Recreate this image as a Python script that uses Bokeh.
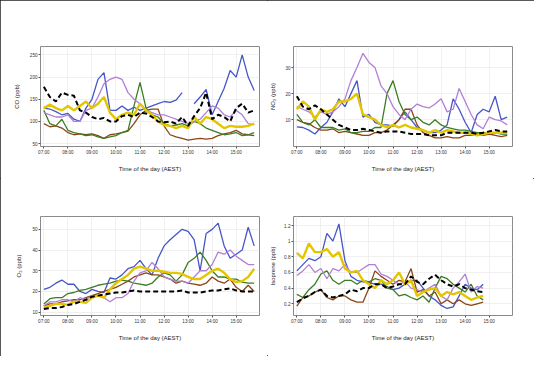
import numpy as np
from bokeh.plotting import figure
from bokeh.models import Legend, LegendItem, FixedTicker, Range1d
from bokeh.layouts import gridplot
from bokeh.embed import file_html
from bokeh.resources import INLINE

nan = float("nan")

# ---- data (15-minute steps) ----
hours = [7 + 0.25 * i for i in range(36)]          # 07:00 .. 15:45
hours_iso = [7 + 0.25 * i for i in range(32)]      # 07:00 .. 14:45
hour_ticks = [7, 8, 9, 10, 11, 12, 13, 14, 15]
hour_labels = ["07:00", "08:00", "09:00", "10:00", "11:00", "12:00", "13:00", "14:00", "15:00"]

series_names = ["Class I_Jan 22", "Class I_Feb 6", "Class I_Feb 7",
                "Class I_Feb 8", "Class II_Feb 9", "Avg non-event"]

co_jan22 = [130, 128, 122, 115, 118, 105, 100, 130, 150, 195, 210, 125, 125, 135, 125, 132, 125, 130,
            135, 140, 145, 143, 148, 165, nan, 140, 155, 172, 115, 145, 175, 215, 200, 250, 200, 170]
co_feb6 = [95, 88, 90, 85, 75, 70, 72, 70, 72, 68, 62, 70, 72, 75, 78, 95, 115, 125,
           128, 128, 90, 70, 65, 62, 58, 60, 62, 60, 62, 68, 72, 75, 80, 72, 70, 68]
co_feb7 = [125, 95, 90, 105, 80, 75, 72, 68, 70, 65, 62, 65, 68, 75, 80, 135, 188, 130,
           115, 110, 95, 90, 92, 95, 90, 100, 95, 85, 80, 75, 70, 72, 75, 68, 70, 75]
co_feb8 = [120, 115, 110, 110, 115, 100, 100, 125, 130, 155, 185, 195, 200, 195, 165, 150, 140, 125,
           120, 115, 115, 110, 105, 100, 95, 100, 105, 120, 135, 130, 115, 110, 125, 115, 95, 93]
co_feb9 = [130, 138, 130, 125, 135, 125, 135, 145, 130, 140, 155, 120, 105, 115, 120, 115, 140, 125,
           115, 100, 92, 90, 85, 90, 85, 110, 95, 110, 105, 95, 85, 90, 88, 88, 90, 95]
co_avg = [178, 155, 145, 165, 160, 158, 125, 120, 110, 105, 108, 100, 100, 112, 115, 110, 120, 118,
          110, 100, 98, 100, 95, 110, 90, 112, 130, 165, 105, 115, 110, 100, 130, 140, 120, 125]

no2_jan22 = [7.2, 7, 6, 4.5, 7, 9, 13, 18, 15, 20, 25, 11, 12, 9, 8, 8, 7.5, 10,
             13, 10, 7, 6, 5, 5, 6, 8, 18, 14, 9, 5, 12, 14, 13, 19, 10, 11]
no2_feb6 = [10, 9, 8.5, 7, 6, 6, 6.5, 5, 5.5, 5, 4.5, 4, 4, 5, 5, 6, 8, 10,
            14, 14, 8, 5, 4, 3, 3, 3.5, 3, 3, 4, 4, 4.5, 4, 4.5, 4, 3.5, 4]
no2_feb7 = [12, 9, 8, 10, 7, 7, 7, 6, 6.5, 5, 5, 5.5, 5.5, 7, 7, 20, 25, 17,
            12, 10, 11, 9, 8, 10, 8, 7, 6.5, 6, 6, 5.5, 5, 5, 5, 5, 4.5, 4.5]
no2_feb8 = [15, 14, 13, 11, 13, 12, 13, 15, 18, 25, 30, 35.5, 32, 30, 23, 20, 15, 12,
            10, 14, 16, 15, 14.5, 16, 18, 13, 14, 22, 17, 12, 8, 6.5, 11, 10, 9.5, 8]
no2_feb9 = [14, 17, 15, 10, 14, 13, 14, 17, 17, 18, 20, 12, 11, 10, 8, 7, 8, 7,
            8, 7, 6.5, 6, 5, 6, 5, 6, 5.5, 5, 5, 4.5, 4, 4.5, 5, 5, 5, 5]
no2_avg = [19, 15, 14, 15.5, 14, 12, 10, 8, 7, 6, 6, 6.5, 6, 5.5, 5, 5.5, 5.5, 5.5,
           5, 4.5, 4.5, 4.5, 4, 4, 4, 5, 5, 5, 5, 5, 4.5, 5, 5.5, 6, 5.5, 5.5]

o3_jan22 = [21, 22, 24, 25.5, 23.5, 23.5, 20, 19, 21, 20, 19.5, 26.5, 26, 28, 31, 32, 35, 31,
            28, 36, 42, 45, 47.5, 50, 49, 45, 30, 48, 50, 53, 42, 36, 38, 40, 51, 42]
o3_feb6 = [13, 14, 14, 15, 15.5, 16, 16, 17, 18, 19, 20, 21, 22, 23.5, 25, 27, 28, 29,
           28, 28, 27, 26, 24, 25, 24, 23.5, 23, 24, 27, 25, 24, 26, 22, 20, 23, 20]
o3_feb7 = [14, 16.5, 17, 17, 19, 19.5, 20.5, 21, 22, 23, 23.5, 24, 25, 25.5, 25, 24, 23.5, 23,
           24, 27, 29, 28, 25, 28, 34, 36, 39, 35, 30, 27, 27, 26, 26, 24.5, 24, 24]
o3_feb8 = [13, 15, 15, 16, 16, 15, 17, 16, 18, 18, 17, 15, 17, 17, 19, 25, 29, 30,
           34, 31, 27, 26, 25, 25, 24, 27, 30, 30, 33, 39, 38, 40, 37, 35, 33, 33]
o3_feb9 = [12, 13, 14, 14, 13.5, 15, 15, 14.5, 17, 18, 17, 21, 24, 26, 28, 31, 32, 31,
           30, 30, 29.5, 29, 29, 28.5, 27, 26, 26, 28, 30, 31, 29, 26, 24.5, 25, 27, 31]
o3_avg = [11.5, 12, 12, 12.5, 13.5, 14, 15, 16, 17.5, 18, 18.5, 19, 19.5, 19.5, 20, 20.5, 20, 20,
          20, 20, 20, 20, 20, 20.5, 19.5, 19.5, 19.5, 20, 20.5, 20.5, 21, 21.5, 20.5, 20, 20, 20]

iso_jan22 = [0.62, 0.7, 0.78, 0.75, 0.8, 1.1, 1.0, 1.22, 0.75, 0.55, 0.5, 0.48, 0.47, 0.45, 0.45, 0.42,
             0.38, 0.4, 0.45, 0.5, 0.5, 0.4, 0.3, 0.25, 0.18, 0.14, 0.16, 0.3, 0.45, 0.4, 0.38, 0.45]
iso_feb6 = [0.17, 0.28, 0.3, 0.35, 0.38, 0.28, 0.25, 0.3, 0.3, 0.25, 0.22, 0.22, 0.4, 0.62, 0.55, 0.5,
            0.45, 0.5, 0.48, 0.65, 0.35, 0.38, 0.3, 0.35, 0.2, 0.25, 0.2, 0.25, 0.2, 0.18, 0.2, 0.22]
iso_feb7 = [0.32, 0.28, 0.38, 0.45, 0.58, 0.62, 0.5, 0.45, 0.5, 0.5, 0.45, 0.5, 0.48, 0.52, 0.5, 0.4,
            0.38, 0.3, 0.32, 0.28, 0.25, 0.3, 0.22, 0.4, 0.55, 0.52, 0.45, 0.4, 0.35, 0.45, 0.3, 0.25]
iso_feb8 = [0.56, 0.62, 0.7, 0.6, 0.65, 0.52, 0.65, 0.62, 0.7, 0.6, 0.6, 0.65, 0.7, 0.7, 0.58, 0.55,
            0.5, 0.45, 0.48, 0.4, 0.38, 0.35, 0.4, 0.45, 0.3, 0.25, 0.4, 0.48, 0.58, 0.35, 0.42, 0.4]
iso_feb9 = [0.85, 0.78, 0.97, 0.86, 0.86, 0.9, 0.8, 0.86, 0.65, 0.6, 0.62, 0.5, 0.45, 0.4, 0.5, 0.45,
            0.5, 0.6, 0.45, 0.5, 0.3, 0.35, 0.38, 0.4, 0.3, 0.35, 0.32, 0.35, 0.3, 0.25, 0.28, 0.3]
iso_avg = [0.22, 0.27, 0.3, 0.35, 0.38, 0.3, 0.28, 0.3, 0.32, 0.38, 0.36, 0.4, 0.4, 0.45, 0.45, 0.4,
           0.42, 0.45, 0.45, 0.55, 0.48, 0.45, 0.52, 0.57, 0.5, 0.45, 0.42, 0.45, 0.4, 0.38, 0.36, 0.35]

# ---- styles ----
FONT = "Liberation Sans"
line_styles = [
    ("#4656C6", 1.3, "solid"),
    ("#8B4513", 1.3, "solid"),
    ("#3B7D23", 1.3, "solid"),
    ("#B27FD6", 1.3, "solid"),
    ("#E3C500", 2.4, "solid"),
    ("#000000", 2.0, "5 3"),
]


def make_panel(x, data, ylabel, yrange, yticks, left, right, top, bottom, ystand, legend_xy):
    p = figure(width=267, height=178, output_backend="svg", toolbar_location=None,
               x_range=Range1d(6.86, 15.97), y_range=Range1d(*yrange),
               min_border_left=left, min_border_right=right,
               min_border_top=top, min_border_bottom=bottom,
               background_fill_color="white", border_fill_color="white")
    p.outline_line_color = "#8a8a8a"
    p.outline_line_width = 1

    items = []
    for name, vals, (col, lw, dash) in zip(series_names, data, line_styles):
        r = p.line(x, vals, line_color=col, line_width=lw, line_dash=dash)
        items.append(LegendItem(label=name, renderers=[r]))

    for ax in (p.xaxis[0], p.yaxis[0]):
        ax.axis_line_color = None
        ax.major_tick_line_color = "#555555"
        ax.major_tick_out = 2
        ax.major_tick_in = 0
        ax.minor_tick_line_color = None
        ax.major_label_text_font = FONT
        ax.major_label_text_font_size = "4.6px"
        ax.major_label_text_color = "#333333"
        ax.major_label_standoff = 1
        ax.axis_label_text_font = FONT
        ax.axis_label_text_font_size = "6px"
        ax.axis_label_text_font_style = "normal"
        ax.axis_label_text_color = "#222222"

    p.xaxis.ticker = FixedTicker(ticks=hour_ticks)
    p.xaxis.major_label_overrides = {t: l for t, l in zip(hour_ticks, hour_labels)}
    p.xaxis.axis_label = "Time of the day (AEST)"
    p.xaxis.axis_label_standoff = 8
    p.yaxis.ticker = FixedTicker(ticks=yticks)
    p.yaxis.axis_label = ylabel
    p.yaxis.axis_label_standoff = ystand

    p.xgrid.grid_line_color = "#ececec"
    p.ygrid.grid_line_color = "#ececec"
    p.xgrid.grid_line_width = 0.8
    p.ygrid.grid_line_width = 0.8

    legend = Legend(items=items, ncols=3, orientation="vertical", location=legend_xy,
                    label_text_font=FONT, label_text_font_size="5.8px",
                    label_text_color="#222222", glyph_width=18, glyph_height=8,
                    label_height=8, label_width=50, label_standoff=4, spacing=2,
                    padding=2, margin=0, border_line_color=None, background_fill_alpha=0)
    p.add_layout(legend)
    return p


p1 = make_panel(hours, [co_jan22, co_feb6, co_feb7, co_feb8, co_feb9, co_avg],
                "CO (ppb)", (43.5, 269), [50, 100, 150, 200, 250], 40, 8, 46, 32, 7, (5, 109))
p2 = make_panel(hours, [no2_jan22, no2_feb6, no2_feb7, no2_feb8, no2_feb9, no2_avg],
                "NO\u2082 (ppb)", (-0.3, 38.1), [10, 20, 30], 24, 22, 46, 32, 6, (6, 109))
p3 = make_panel(hours, [o3_jan22, o3_feb6, o3_feb7, o3_feb8, o3_feb9, o3_avg],
                "O\u2083 (ppb)", (8.4, 56.2), [10, 20, 30, 40, 50], 38, 8, 38, 41, 7, (5, 109))
p4 = make_panel(hours_iso, [iso_jan22, iso_feb6, iso_feb7, iso_feb8, iso_feb9, iso_avg],
                "Isoprene (ppb)", (0.05, 1.315), [0.2, 0.4, 0.6, 0.8, 1.0, 1.2], 24, 22, 38, 41, 5, (6, 109))

grid = gridplot([[p1, p2], [p3, p4]], toolbar_location=None)
try:
    grid.styles = {"outline": "1.5px solid #222222", "outline-offset": "-1.5px"}
except Exception:
    pass

open("out.html", "w").write(file_html(grid, INLINE))
